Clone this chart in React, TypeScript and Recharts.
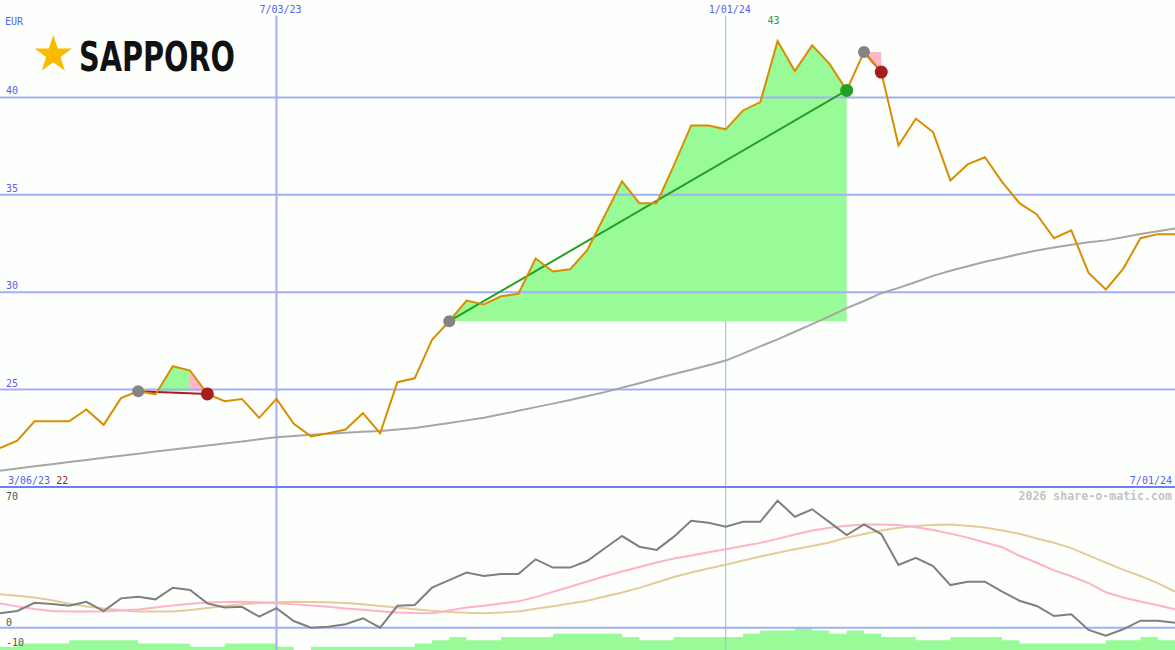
import React from 'react';
import { ComposedChart, Line, Area, XAxis, YAxis, ReferenceLine, ReferenceDot } from 'recharts';

// ---------- data (weekly points, index 0..68) ----------
const price = [
  22.0, 22.38, 23.37, 23.37, 23.37, 23.98, 23.19, 24.56, 24.92, 24.75,
  26.2, 25.98, 24.78, 24.4, 24.52, 23.55, 24.52, 23.24, 22.6, 22.76,
  22.95, 23.79, 22.76, 25.38, 25.58, 27.55, 28.51, 29.57, 29.37, 29.79,
  29.92, 31.73, 31.06, 31.18, 32.18, 33.94, 35.69, 34.57, 34.57, 36.51,
  38.56, 38.56, 38.36, 39.33, 39.76, 42.89, 41.35, 42.67, 41.73, 40.36,
  42.33, 41.3, 37.53, 38.91, 38.22, 35.74, 36.56, 36.93, 35.65, 34.57,
  33.99, 32.77, 33.17, 30.99, 30.14, 31.2, 32.77, 32.98, 32.98,
];
const priceAvg = [
  20.84, 20.95, 21.06, 21.17, 21.28, 21.39, 21.5, 21.6, 21.71, 21.82,
  21.93, 22.03, 22.13, 22.23, 22.33, 22.45, 22.55, 22.62, 22.68, 22.73,
  22.78, 22.83, 22.88, 22.95, 23.03, 23.16, 23.29, 23.42, 23.56, 23.73,
  23.91, 24.1, 24.28, 24.47, 24.67, 24.87, 25.1, 25.33, 25.57, 25.8,
  26.02, 26.25, 26.49, 26.85, 27.22, 27.58, 27.97, 28.36, 28.76, 29.18,
  29.55, 29.95, 30.22, 30.52, 30.84, 31.1, 31.33, 31.56, 31.76, 31.96,
  32.14, 32.29, 32.44, 32.56, 32.66, 32.82, 32.99, 33.13, 33.27,
];
const osc = [
  7.2, 8.3, 12.4, 11.8, 10.9, 12.9, 8.3, 14.6, 15.4, 14.1,
  19.9, 18.8, 12.1, 10.1, 10.4, 5.5, 9.7, 3.3, 0.0, 0.5,
  1.7, 4.7, 0.0, 10.9, 11.3, 19.9, 23.7, 27.4, 25.7, 26.7,
  26.7, 34.0, 29.9, 29.9, 33.3, 39.5, 45.6, 40.3, 38.7, 45.3,
  53.2, 52.2, 50.2, 52.7, 52.7, 63.2, 55.2, 58.9, 52.5, 46.1,
  51.4, 46.6, 31.2, 34.8, 30.7, 21.2, 22.9, 22.9, 17.9, 13.4,
  10.8, 5.8, 6.7, -1.1, -4.0, -0.8, 3.5, 3.5, 2.5,
];
const oscFast = [
  12.1, 10.6, 9.3, 8.3, 8.0, 8.0, 8.0, 8.5, 9.1, 10.1,
  11.1, 11.9, 12.5, 12.8, 12.9, 12.6, 12.1, 11.6, 11.1, 10.4,
  9.6, 8.9, 8.2, 7.6, 7.3, 7.2, 8.5, 10.0, 10.9, 12.0,
  13.1, 15.2, 17.8, 20.4, 23.0, 25.6, 28.0, 30.2, 32.4, 34.4,
  35.9, 37.5, 39.0, 40.6, 42.2, 44.2, 46.4, 48.4, 49.7, 50.7,
  51.3, 51.4, 51.1, 50.0, 48.6, 46.8, 44.8, 42.4, 40.0, 35.8,
  32.3, 28.5, 25.6, 22.2, 17.6, 15.0, 13.0, 11.2, 9.2,
];
const oscSlow = [
  16.6, 15.9, 15.0, 13.6, 11.9, 10.6, 9.5, 8.7, 8.0, 8.0,
  8.0, 8.8, 9.8, 10.8, 11.7, 12.3, 12.7, 12.9, 12.8, 12.6,
  12.3, 11.7, 10.8, 10.1, 9.2, 8.4, 7.8, 7.4, 7.2, 7.6,
  8.1, 9.4, 10.7, 12.0, 13.4, 15.5, 17.5, 19.8, 22.5, 25.2,
  27.5, 29.4, 31.3, 33.4, 35.4, 37.3, 39.0, 40.6, 42.4, 44.8,
  46.6, 48.4, 49.7, 50.6, 51.1, 51.4, 50.7, 49.8, 48.4, 46.7,
  44.4, 42.3, 39.6, 36.0, 32.4, 28.9, 25.7, 22.2, 17.9,
];
const volume = [
  1, 2, 2, 2, 3, 3, 3, 3, 2, 2,
  2, 1, 1, 2, 2, 2, 1, 0, 1, 1,
  1, 1, 1, 1, 2, 3, 4, 3, 3, 4,
  4, 4, 5, 5, 5, 5, 4, 3, 3, 4,
  4, 4, 4, 5, 6, 6, 7, 6, 5, 6,
  5, 4, 4, 3, 3, 4, 4, 4, 3, 2,
  2, 2, 2, 2, 3, 3, 4, 3, 3,
];
const priceTicks = [25, 30, 35, 40];
const oscTicks = [0, -10];
const dateMarks = [
  { index: 16, label: '7/03/23', width: 2 },
  { index: 42, label: '1/01/24', width: 1 },
];
const startDate = '3/06/23';
const endDate = '7/01/24';
const currency = 'EUR';
const brand = 'SAPPORO';
const watermark = '2026 share-o-matic.com';
const trades = [
  { entry: 8, exit: 12 },
  { entry: 26, exit: 49 },
  { entry: 50, exit: 51 },
];
const fills = [
  { trade: 0, from: 8, to: 9, color: '#ffb6c8' },
  { trade: 0, from: 9, to: 11, color: '#98fb98' },
  { trade: 0, from: 11, to: 12, color: '#ffb6c8' },
  { trade: 1, from: 26, to: 49, color: '#98fb98' },
  { trade: 2, from: 50, to: 51, color: '#ffb6c8' },
];

// ---------- styles ----------
const BG = '#fdfffd';
const GRID = '#a3aff2';
const DIVIDER = '#6f7ff0';
const BLUE = '#5262f0';
const PRICE = '#d98e00';
const AVG = '#a6a6a6';
const OSC = '#7f7f7f';
const FAST = '#ffb2c6';
const SLOW = '#e4cc9a';
const VOL = '#98fb98';
const WIN = '#22a022';
const LOSS = '#a51d1d';
const ENTRY = '#848484';
const MONO = '"DejaVu Sans Mono", monospace';

const W = 1175;
const LAST = price.length - 1;

export default function App() {
  const tradeWin = (t: { entry: number; exit: number }) => price[t.exit] > price[t.entry];

  const mainRows = price.map((p, i) => {
    const row: Record<string, any> = { i, price: p, avg: priceAvg[i] };
    priceTicks.forEach((v) => {
      row[`grid${v}`] = v;
    });
    fills.forEach((f, k) => {
      if (i >= f.from && i <= f.to) row[`fill${k}`] = [price[trades[f.trade].entry], p];
    });
    trades.forEach((t, k) => {
      if (i === t.entry || i === t.exit) row[`trade${k}`] = p;
    });
    if (trades.some((t) => t.entry === i)) row.entryDot = p;
    const ex = trades.find((t) => t.exit === i);
    if (ex) row[tradeWin(ex) ? 'exitWin' : 'exitLoss'] = p;
    return row;
  });

  const lowRows = osc.map((v, i) => ({ i, osc: v, fast: oscFast[i], slow: oscSlow[i], vol: volume[i] }));

  const maxPrice = Math.max(...price);
  const minPrice = Math.min(...price);
  const maxIndex = price.indexOf(maxPrice);

  const leftLabel = (text: string, dy: number, color: string) => (props: any) => {
    const vb = props.viewBox || {};
    return (
      <text x={6} y={vb.y + dy} fill={color} fontSize={10} fontFamily={MONO}>
        {text}
      </text>
    );
  };

  const dateLabel = (text: string) => (props: any) => {
    const vb = props.viewBox || {};
    return (
      <text x={vb.x - 17} y={12.5} fill={BLUE} fontSize={10} fontFamily={MONO}>
        {text}
      </text>
    );
  };

  const bottomDates = (props: any) => {
    const vb = props.viewBox || {};
    return (
      <g>
        <text x={8} y={vb.y - 3.5} fontSize={10} fontFamily={MONO} fill={BLUE}>
          {startDate + ' '}
          <tspan fill={LOSS}>{String(Math.round(minPrice))}</tspan>
        </text>
        <text x={W - 3} y={vb.y - 3.5} fontSize={10} fontFamily={MONO} fill={BLUE} textAnchor="end">
          {endDate}
        </text>
      </g>
    );
  };

  const topOscLabel = (props: any) => {
    const vb = props.viewBox || {};
    return (
      <g>
        <text x={6} y={vb.y + 13} fontSize={10} fontFamily={MONO} fill="#555">
          70
        </text>
        <text x={W - 3} y={vb.y + 13} fontSize={11.6} fontWeight="bold" fontFamily={MONO} fill="#c4c4c4" textAnchor="end">
          {watermark}
        </text>
      </g>
    );
  };

  const maxLabel = (props: any) => {
    const vb = props.viewBox || {};
    return (
      <text x={vb.x - 3} y={vb.y - 16} fill={WIN} fontSize={10} fontFamily={MONO} textAnchor="middle">
        {String(Math.round(maxPrice))}
      </text>
    );
  };

  // star geometry for logo
  const starPts: string[] = [];
  for (let k = 0; k < 10; k++) {
    const r = k % 2 === 0 ? 19.7 : 7.6;
    const a = -Math.PI / 2 + (k * Math.PI) / 5;
    starPts.push(`${(53.3 + r * Math.cos(a)).toFixed(2)},${(54.7 + r * Math.sin(a)).toFixed(2)}`);
  }

  return (
    <div style={{ position: 'absolute', left: 0, top: 0, width: W, height: 650, background: BG, overflow: 'hidden' }}>
      <div style={{ position: 'absolute', left: 0, top: 0 }}>
        <ComposedChart width={W} height={487} data={mainRows} margin={{ top: 0, right: 0, bottom: 0, left: 0 }}>
          <XAxis dataKey="i" type="number" domain={[0, LAST]} hide />
          <YAxis domain={[20, 45]} hide />
          {dateMarks.map((d) => (
            <ReferenceLine
              key={`dx${d.index}`}
              segment={[{ x: d.index, y: 44.2 }, { x: d.index, y: 20 }]}
              stroke={GRID}
              strokeWidth={d.width}
              label={dateLabel(d.label)}
              zIndex={-10}
            />
          ))}
          {priceTicks.map((v) => (
            <Line
              key={`grid${v}`}
              dataKey={`grid${v}`}
              stroke={GRID}
              strokeWidth={2}
              dot={false}
              activeDot={false}
              isAnimationActive={false}
            />
          ))}
          {priceTicks.map((v) => (
            <ReferenceLine key={`py${v}`} y={v} stroke="none" label={leftLabel(String(v), -3, BLUE)} />
          ))}
          <ReferenceLine y={20} stroke="none" label={bottomDates} />
          {fills.map((f, k) => (
            <Area
              key={`fill${k}`}
              dataKey={`fill${k}`}
              type="linear"
              fill={f.color}
              fillOpacity={1}
              stroke="none"
              isAnimationActive={false}
              connectNulls={false}
              dot={false}
              activeDot={false}
            />
          ))}
          <Line dataKey="avg" stroke={AVG} strokeWidth={2} dot={false} activeDot={false} isAnimationActive={false} />
          {trades.map((t, k) => (
            <Line
              key={`trade${k}`}
              dataKey={`trade${k}`}
              connectNulls
              stroke={tradeWin(t) ? WIN : LOSS}
              strokeWidth={2}
              dot={false}
              activeDot={false}
              isAnimationActive={false}
            />
          ))}
          <Line dataKey="price" stroke={PRICE} strokeWidth={2} dot={false} activeDot={false} isAnimationActive={false} />
          <Line dataKey="entryDot" stroke="none" dot={{ r: 6, fill: ENTRY, stroke: 'none' }} activeDot={false} isAnimationActive={false} />
          <Line dataKey="exitWin" stroke="none" dot={{ r: 6.5, fill: WIN, stroke: 'none' }} activeDot={false} isAnimationActive={false} />
          <Line dataKey="exitLoss" stroke="none" dot={{ r: 6.5, fill: LOSS, stroke: 'none' }} activeDot={false} isAnimationActive={false} />
          <ReferenceDot x={maxIndex} y={maxPrice} r={1} fill="none" stroke="none" label={maxLabel} />
        </ComposedChart>
      </div>
      <div style={{ position: 'absolute', left: 0, top: 480 }}>
        <ComposedChart width={W} height={170} data={lowRows} margin={{ top: 7, right: 0, bottom: 0, left: 0 }}>
          <XAxis dataKey="i" type="number" domain={[0, LAST]} hide />
          <YAxis yAxisId="osc" domain={[-11.1, 70]} hide />
          <YAxis yAxisId="vol" domain={[0, 50]} hide />
          <Area
            yAxisId="vol"
            dataKey="vol"
            type="stepAfter"
            fill={VOL}
            fillOpacity={1}
            stroke="none"
            dot={false}
            activeDot={false}
            isAnimationActive={false}
          />
          {oscTicks.map((v) => (
            <ReferenceLine
              key={`oy${v}`}
              yAxisId="osc"
              y={v}
              stroke={v === 0 ? GRID : 'none'}
              strokeWidth={2}
              label={leftLabel(String(v), -2, '#555')}
            />
          ))}
          {dateMarks.map((d) => (
            <ReferenceLine key={`ldx${d.index}`} yAxisId="osc" x={d.index} stroke={GRID} strokeWidth={d.width} />
          ))}
          <ReferenceLine yAxisId="osc" y={70} stroke={DIVIDER} strokeWidth={2} label={topOscLabel} />
          <Line yAxisId="osc" dataKey="slow" stroke={SLOW} strokeWidth={2} dot={false} activeDot={false} isAnimationActive={false} />
          <Line yAxisId="osc" dataKey="fast" stroke={FAST} strokeWidth={2} dot={false} activeDot={false} isAnimationActive={false} />
          <Line yAxisId="osc" dataKey="osc" stroke={OSC} strokeWidth={2} dot={false} activeDot={false} isAnimationActive={false} />
        </ComposedChart>
      </div>
      <svg width={320} height={110} style={{ position: 'absolute', left: 0, top: 0, pointerEvents: 'none', overflow: 'visible' }}>
        <text x={5} y={25} fill={BLUE} fontSize={10} fontFamily={MONO}>
          {currency}
        </text>
        <polygon points={starPts.join(' ')} fill="#f8bb00" />
        <text
          x={79}
          y={70.7}
          fontSize={40}
          fontWeight="bold"
          fontFamily='"Liberation Sans Narrow", "DejaVu Sans Condensed", "Liberation Sans", sans-serif'
          textLength={156}
          lengthAdjust="spacingAndGlyphs"
          fill="#111"
        >
          {brand}
        </text>
      </svg>
    </div>
  );
}
